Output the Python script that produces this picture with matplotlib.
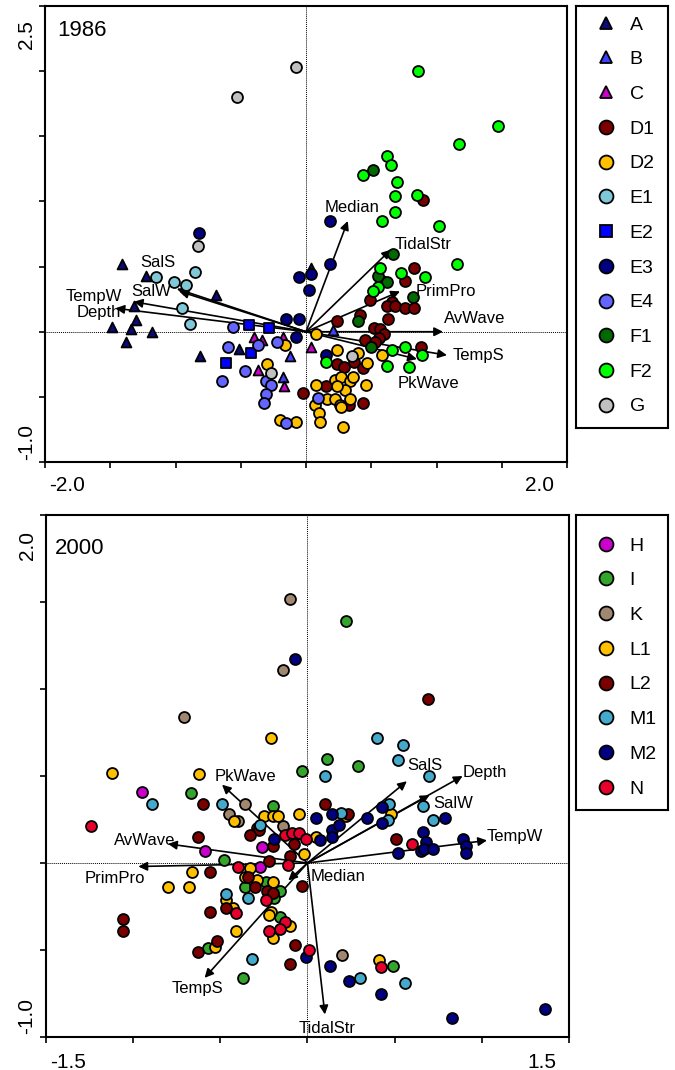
import numpy as np
import matplotlib
matplotlib.use("Agg")
import matplotlib.pyplot as plt
from matplotlib.lines import Line2D

plt.rcParams['font.family'] = ['Liberation Sans', 'DejaVu Sans']

# ---------------- 1986 data ----------------
top_groups = ['A', 'B', 'C', 'D1', 'D2', 'E1', 'E2', 'E3', 'E4', 'F1', 'F2', 'G']
top_colors = ['#0a0a78', '#4040ff', '#cc00cc', '#7a0000', '#ffc000', '#80c8d8',
              '#0000ff', '#000080', '#6464ff', '#006a00', '#00ff00', '#c0c0c0']
top_markers = ['^', '^', '^', 'o', 'o', 'o', 's', 'o', 'o', 'o', 'o', 'o']

A_x = [-1.41, -1.23, -0.69, -1.32, -1.30, -1.49, -1.34, -1.18, -1.38, -0.51, -0.81, 0.04]
A_y = [0.52, 0.43, 0.28, 0.20, 0.09, 0.04, 0.02, 0.00, -0.08, -0.13, -0.19, 0.49]
B_x = [-0.12, -0.18, 0.21]
B_y = [-0.19, -0.35, 0.01]
C_x = [-0.40, -0.34, -0.18, -0.37, -0.17, 0.04]
C_y = [-0.04, -0.06, -0.04, -0.29, -0.42, -0.12]
D1_x = [0.90, 0.83, 0.76, 0.58, 0.49, 0.66, 0.62, 0.68, 0.76, 0.83, 0.41, 0.24, 0.63, 0.52,
        0.57, 0.60, 0.56, 0.45, 0.53, 0.88, 0.24, 0.29, 0.37, 0.44, 0.15, 0.33, 0.44, -0.02]
D1_y = [1.01, 0.49, 0.39, 0.39, 0.24, 0.23, 0.20, 0.20, 0.18, 0.18, 0.13, 0.08, 0.10, 0.03,
        0.02, -0.02, -0.05, -0.06, -0.08, -0.12, -0.25, -0.27, -0.23, -0.28, -0.42, -0.56, -0.55, -0.47]
D2_x = [-0.16, -0.30, -0.20, -0.08, 0.08, 0.58, 0.40, 0.24, 0.47, 0.46, 0.22, 0.27, 0.34,
        0.36, 0.30, 0.24, 0.08, 0.07, 0.16, 0.22, 0.26, 0.34, 0.27, 0.10, 0.11, 0.28]
D2_y = [-0.10, -0.25, -0.68, -0.69, -0.02, -0.18, -0.16, -0.14, -0.24, -0.41, -0.37, -0.35, -0.38,
        -0.35, -0.45, -0.42, -0.41, -0.56, -0.52, -0.52, -0.56, -0.52, -0.58, -0.62, -0.69, -0.73]
E1_x = [-1.15, -0.85, -1.01, -0.92, -0.95, -0.89]
E1_y = [0.42, 0.46, 0.38, 0.36, 0.18, 0.06]
E2_x = [-0.44, -0.28, -0.42, -0.61]
E2_y = [0.05, 0.03, -0.16, -0.24]
E3_x = [-0.82, 0.18, -0.15, -0.05, -0.08, -0.05, 0.04, 0.02, 0.18, 0.15]
E3_y = [0.76, 0.85, 0.10, 0.10, -0.04, 0.42, 0.44, 0.32, 0.52, -0.18]
E4_x = [-0.56, -0.37, -0.22, -0.60, -0.47, -0.31, -0.27, -0.64, -0.31, -0.32, -0.15, 0.09]
E4_y = [0.04, -0.10, -0.08, -0.12, -0.30, -0.38, -0.41, -0.38, -0.48, -0.55, -0.70, -0.51]
F1_x = [0.51, 0.67, 0.55, 0.62, 0.82, 0.40, 0.50]
F1_y = [1.24, 0.60, 0.43, 0.38, 0.27, 0.08, -0.12]
F2_x = [0.86, 1.47, 1.17, 0.62, 0.65, 0.44, 0.70, 0.68, 0.85, 0.68, 0.58, 1.02, 1.16, 0.57,
        0.73, 0.91, 0.55, 0.51, 0.66, 0.76, 0.89, 0.62, 0.79, 0.15]
F2_y = [2.00, 1.58, 1.44, 1.35, 1.28, 1.20, 1.15, 1.04, 1.05, 0.92, 0.85, 0.81, 0.52, 0.49,
        0.45, 0.42, 0.34, 0.31, -0.14, -0.12, -0.18, -0.26, -0.27, -0.23]
G_x = [-0.08, -0.53, -0.83, -0.27, 0.35]
G_y = [2.03, 1.80, 0.66, -0.32, -0.19]

top_x = [A_x, B_x, C_x, D1_x, D2_x, E1_x, E2_x, E3_x, E4_x, F1_x, F2_x, G_x]
top_y = [A_y, B_y, C_y, D1_y, D2_y, E1_y, E2_y, E3_y, E4_y, F1_y, F2_y, G_y]

top_vars = ['Median', 'TidalStr', 'PrimPro', 'AvWave', 'TempS', 'PkWave', 'SalS', 'SalW', 'TempW', 'Depth']
top_vx = [0.32, 0.65, 0.72, 1.05, 1.08, 0.85, -0.99, -0.97, -1.32, -1.46]
top_vy = [0.85, 0.63, 0.31, 0.00, -0.18, -0.21, 0.33, 0.31, 0.23, 0.18]
top_lx = [0.35, 0.68, 0.84, 1.06, 1.12, 0.70, -1.27, -1.34, -1.84, -1.76]
top_ly = [0.95, 0.67, 0.31, 0.10, -0.18, -0.40, 0.53, 0.31, 0.27, 0.15]
top_lha = ['center', 'left', 'left', 'left', 'left', 'left', 'left', 'left', 'left', 'left']

# ---------------- 2000 data ----------------
bot_groups = ['H', 'I', 'K', 'L1', 'L2', 'M1', 'M2', 'N']
bot_colors = ['#cc00cc', '#33a52a', '#a08870', '#ffc000', '#7a0000', '#44aacc', '#000080', '#e8002c']

H_x = [-0.95, -0.26, -0.59, -0.27]
H_y = [0.41, 0.09, 0.07, -0.02]
I_x = [0.22, -0.03, 0.11, 0.29, -0.67, -0.20, -0.48, -0.36, -0.24, -0.16, -0.19, -0.16, -0.57, -0.37, 0.49]
I_y = [1.39, 0.53, 0.60, 0.56, 0.40, 0.33, 0.02, -0.14, -0.11, -0.16, -0.20, -0.31, -0.49, -0.66, -0.59]
K_x = [-0.10, -0.14, -0.71, -0.36, -0.45, -0.40, -0.14, 0.20]
K_y = [1.52, 1.11, 0.84, 0.34, 0.28, 0.24, 0.21, -0.53]
L1_x = [-0.21, -1.12, -0.62, -0.42, -0.25, -0.20, -0.17, -0.05, 0.05, -0.02, -0.33, -0.66, -0.36,
        -0.29, -0.80, -0.68, -0.20, -0.47, -0.43, -0.21, -0.22, -0.10, -0.41, -0.20, -0.53, 0.22, 0.48, 0.41]
L1_y = [0.72, 0.52, 0.51, 0.24, 0.27, 0.27, 0.27, 0.28, 0.15, 0.05, -0.03, -0.05, -0.08,
        -0.10, -0.14, -0.14, -0.11, -0.21, -0.26, -0.28, -0.30, -0.36, -0.39, -0.43, -0.48, 0.27, 0.28, -0.56]
L2_x = [0.69, -0.60, 0.10, -0.29, -0.28, -0.63, -0.33, -0.07, -0.20, -0.08, -0.10, -0.22, -0.56, -0.34,
        -0.30, -0.23, -0.20, -0.03, -0.56, -0.47, -1.06, -1.06, -0.52, -0.63, -0.07, -0.10, 0.23, 0.51]
L2_y = [0.94, 0.34, 0.34, 0.20, 0.19, 0.15, 0.16, 0.16, 0.10, 0.11, 0.04, 0.01, -0.05, -0.08,
        -0.14, -0.16, -0.17, -0.13, -0.28, -0.26, -0.32, -0.39, -0.45, -0.51, -0.47, -0.58, 0.28, 0.14]
M1_x = [0.10, 0.40, 0.55, 0.52, 0.70, -0.89, -0.49, -0.27, -0.34, -0.47, -0.32, 0.19, 0.47, 0.46,
        0.66, 0.72, 0.30, 0.56]
M1_y = [0.50, 0.72, 0.68, 0.59, 0.50, 0.34, 0.34, 0.22, -0.20, -0.18, -0.55, 0.29, 0.34, 0.25,
        0.33, 0.25, -0.66, -0.69]
M2_x = [-0.07, -0.19, 0.05, 0.14, 0.07, 0.14, 0.14, 0.34, 0.43, 0.43, 0.18, 0.79, 0.66, 0.68,
        0.52, 0.65, 0.67, 0.72, 0.89, 0.91, 0.91, -0.01, 0.13, 0.24, 0.42, 0.83, 1.36]
M2_y = [1.17, 0.14, 0.26, 0.28, 0.13, 0.19, 0.15, 0.26, 0.32, 0.23, 0.22, 0.26, 0.18, 0.12,
        0.06, 0.07, 0.08, 0.08, 0.14, 0.10, 0.06, -0.54, -0.59, -0.68, -0.75, -0.89, -0.84]
N_x = [-1.24, -0.13, -0.09, -0.05, -0.01, -0.11, -0.40, -0.24, -0.41, -0.13, -0.22, -0.16, 0.01, 0.60, 0.42]
N_y = [0.21, 0.16, 0.17, 0.17, 0.14, -0.01, -0.02, -0.21, -0.29, -0.34, -0.39, -0.38, -0.50, 0.11, -0.60]

bot_x = [H_x, I_x, K_x, L1_x, L2_x, M1_x, M2_x, N_x]
bot_y = [H_y, I_y, K_y, L1_y, L2_y, M1_y, M2_y, N_y]

bot_vars = ['AvWave', 'PrimPro', 'TempS', 'TidalStr', 'PkWave', 'Median', 'SalW', 'TempW', 'SalS', 'Depth']
bot_vx = [-0.80, -0.97, -0.59, 0.10, -0.49, -0.11, 0.70, 1.03, 0.57, 0.89]
bot_vy = [0.11, -0.02, -0.66, -0.87, 0.45, -0.10, 0.39, 0.13, 0.47, 0.50]
bot_lx = [-0.76, -1.28, -0.78, -0.05, -0.53, 0.02, 0.72, 1.03, 0.57, 0.89]
bot_ly = [0.13, -0.09, -0.72, -0.95, 0.50, -0.08, 0.34, 0.15, 0.56, 0.52]
bot_lha = ['right', 'left', 'left', 'left', 'left', 'left', 'left', 'left', 'left', 'left']


def style_axes(ax, xlim, ylim, step):
    ax.set_xlim(*xlim)
    ax.set_ylim(*ylim)
    ax.set_xticks(np.arange(xlim[0], xlim[1] + 1e-9, step))
    ax.set_yticks(np.arange(ylim[0], ylim[1] + 1e-9, step))
    ax.set_xticklabels([])
    ax.set_yticklabels([])
    ax.tick_params(direction='out', length=4, width=1.2, top=False, right=False)
    for s in ax.spines.values():
        s.set_linewidth(1.5)
    ax.axhline(0, color='black', lw=0.7, ls=(0, (1, 1)), zorder=1)
    ax.axvline(0, color='black', lw=0.7, ls=(0, (1, 1)), zorder=1)
    xl = [f"{xlim[0]:.1f}", f"{xlim[1]:.1f}"]
    yl = [f"{ylim[0]:.1f}", f"{ylim[1]:.1f}"]
    ax.text(0.008, -0.03, xl[0], transform=ax.transAxes, ha='left', va='top', fontsize=15)
    ax.text(0.975, -0.03, xl[1], transform=ax.transAxes, ha='right', va='top', fontsize=15)
    ax.text(-0.018, 0.97, yl[1], transform=ax.transAxes, ha='right', va='top', rotation=90, fontsize=15)
    ax.text(-0.018, 0.005, yl[0], transform=ax.transAxes, ha='right', va='bottom', rotation=90, fontsize=15)


def draw_arrows(ax, vars_, vx, vy, lx, ly, lha):
    for name, x, y, tx, ty, ha in zip(vars_, vx, vy, lx, ly, lha):
        ax.annotate('', xy=(x, y), xytext=(0, 0),
                    arrowprops=dict(arrowstyle='-|>', color='black', lw=1.2,
                                    mutation_scale=13, shrinkA=0, shrinkB=0),
                    zorder=2)
        ax.text(tx, ty, name, ha=ha, va='center', fontsize=12, zorder=5)


def legend_box(fig, rect, labels, colors, markers, top_offset):
    lax = fig.add_axes(rect)
    lax.set_xticks([])
    lax.set_yticks([])
    for s in lax.spines.values():
        s.set_linewidth(1.5)
    handles = [Line2D([], [], ls='none', marker=m, markersize=(10 if m == 'o' else 9),
                      markerfacecolor=c, markeredgecolor='black', markeredgewidth=1.3)
               for c, m in zip(colors, markers)]
    lax.legend(handles, labels, loc='upper left', bbox_to_anchor=(0.17, 1 - top_offset),
               frameon=False, fontsize=14, handlelength=1.0, handletextpad=0.7,
               labelspacing=0.88, borderaxespad=0, borderpad=0.25)


fig = plt.figure(figsize=(6.75, 10.7), dpi=100)

# ---- top panel ----
ax1 = fig.add_axes([0.0667, 0.5682, 0.7733, 0.4262])
style_axes(ax1, (-2.0, 2.0), (-1.0, 2.5), 0.5)
draw_arrows(ax1, top_vars, top_vx, top_vy, top_lx, top_ly, top_lha)
for gx, gy, c, m in zip(top_x, top_y, top_colors, top_markers):
    ax1.scatter(gx, gy, s=(62 if m == 'o' else 50), marker=m, facecolor=c,
                edgecolor='black', linewidth=1.3, zorder=3)
ax1.text(0.023, 0.97, '1986', transform=ax1.transAxes, ha='left', va='top', fontsize=16)
legend_box(fig, [0.8533, 0.6, 0.1363, 0.3944], top_groups, top_colors, top_markers, 0.012)

# ---- bottom panel ----
ax2 = fig.add_axes([0.0681, 0.0308, 0.7748, 0.4879])
style_axes(ax2, (-1.5, 1.5), (-1.0, 2.0), 0.5)
draw_arrows(ax2, bot_vars, bot_vx, bot_vy, bot_lx, bot_ly, bot_lha)
for gx, gy, c in zip(bot_x, bot_y, bot_colors):
    ax2.scatter(gx, gy, s=62, marker='o', facecolor=c,
                edgecolor='black', linewidth=1.3, zorder=3)
ax2.text(0.017, 0.955, '2000', transform=ax2.transAxes, ha='left', va='top', fontsize=16)
legend_box(fig, [0.8533, 0.243, 0.1363, 0.2757], bot_groups, bot_colors, ['o'] * 8, 0.058)

fig.savefig('out.png', dpi=100)
